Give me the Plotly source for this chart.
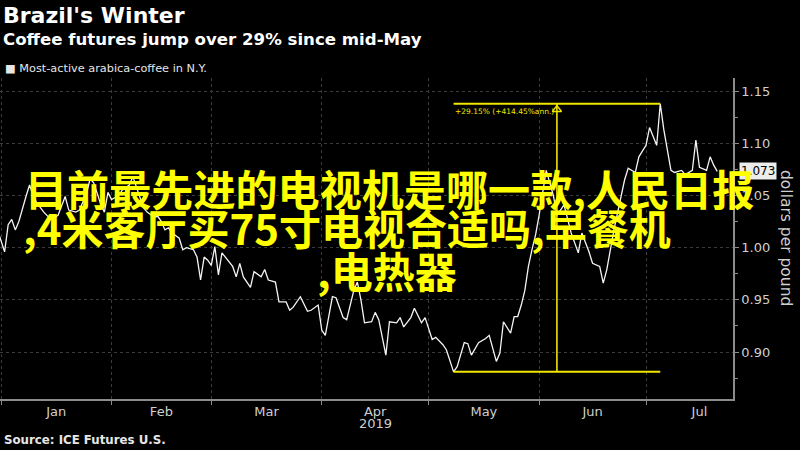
import plotly.graph_objects as go
import pandas as pd

dates = [
    "2018-12-31", "2019-01-02", "2019-01-03", "2019-01-04", "2019-01-05", "2019-01-06", "2019-01-08",
    "2019-01-09", "2019-01-10", "2019-01-11", "2019-01-13", "2019-01-15", "2019-01-17", "2019-01-18",
    "2019-01-19", "2019-01-20", "2019-01-22", "2019-01-23", "2019-01-25", "2019-01-26", "2019-01-27",
    "2019-01-28", "2019-01-29", "2019-01-30", "2019-01-31",
    "2019-02-01", "2019-02-03", "2019-02-04", "2019-02-06", "2019-02-07", "2019-02-08", "2019-02-09",
    "2019-02-10", "2019-02-11", "2019-02-13", "2019-02-14", "2019-02-15", "2019-02-16", "2019-02-17",
    "2019-02-18", "2019-02-20", "2019-02-21", "2019-02-22", "2019-02-24", "2019-02-25", "2019-02-26",
    "2019-02-27", "2019-02-28",
    "2019-03-01", "2019-03-02", "2019-03-03", "2019-03-04", "2019-03-05", "2019-03-07", "2019-03-08",
    "2019-03-09", "2019-03-10", "2019-03-12", "2019-03-13", "2019-03-15", "2019-03-16", "2019-03-17",
    "2019-03-19", "2019-03-20", "2019-03-22", "2019-03-23", "2019-03-24", "2019-03-26", "2019-03-28",
    "2019-03-29", "2019-03-31",
    "2019-04-01", "2019-04-02", "2019-04-04", "2019-04-05", "2019-04-07", "2019-04-08", "2019-04-10",
    "2019-04-11", "2019-04-12", "2019-04-13", "2019-04-15", "2019-04-16", "2019-04-17", "2019-04-19",
    "2019-04-20", "2019-04-22", "2019-04-23", "2019-04-24", "2019-04-26", "2019-04-27", "2019-04-29",
    "2019-04-30",
    "2019-05-02", "2019-05-03", "2019-05-05", "2019-05-06", "2019-05-08", "2019-05-09", "2019-05-11",
    "2019-05-12", "2019-05-13", "2019-05-15", "2019-05-17", "2019-05-18", "2019-05-20", "2019-05-21",
    "2019-05-22", "2019-05-24", "2019-05-25", "2019-05-26", "2019-05-27", "2019-05-28", "2019-05-29",
    "2019-05-30", "2019-05-31",
    "2019-06-01", "2019-06-02", "2019-06-03", "2019-06-05", "2019-06-06", "2019-06-08", "2019-06-10",
    "2019-06-12", "2019-06-13", "2019-06-15", "2019-06-16", "2019-06-18", "2019-06-19", "2019-06-20",
    "2019-06-21", "2019-06-22", "2019-06-25", "2019-06-26", "2019-06-28", "2019-06-29",
    "2019-07-01", "2019-07-02", "2019-07-04", "2019-07-05", "2019-07-06", "2019-07-07", "2019-07-08",
    "2019-07-09", "2019-07-11", "2019-07-12", "2019-07-13", "2019-07-14", "2019-07-15", "2019-07-16",
    "2019-07-18", "2019-07-19", "2019-07-20", "2019-07-21",
]

prices = [
    1.017, 0.996, 1.022, 1.027, 1.017, 1.025, 1.049, 1.060, 1.050, 1.043, 1.034, 1.027, 1.031, 1.041,
    1.049, 1.036, 1.034, 1.036, 1.052, 1.066, 1.062, 1.052, 1.041, 1.034, 1.053,
    1.046, 1.050, 1.055, 1.060, 1.068, 1.058, 1.050, 1.038, 1.034, 1.029, 1.030, 1.025, 1.017, 1.019,
    1.014, 1.009, 0.998, 1.000, 0.998, 0.991, 0.969, 0.991, 0.988,
    0.983, 1.001, 0.974, 0.995, 0.991, 0.982, 0.972, 0.985, 0.972, 0.962, 0.977, 0.972, 0.979, 0.969,
    0.967, 0.948, 0.948, 0.940, 0.943, 0.953, 0.939, 0.940, 0.945,
    0.921, 0.916, 0.953, 0.952, 0.933, 0.931, 0.959, 0.967, 0.950, 0.928, 0.929, 0.938, 0.931, 0.897,
    0.929, 0.928, 0.933, 0.924, 0.933, 0.942, 0.928, 0.933,
    0.912, 0.914, 0.907, 0.902, 0.881, 0.886, 0.909, 0.908, 0.897, 0.909, 0.913, 0.916, 0.891, 0.899,
    0.929, 0.918, 0.934, 0.934, 0.945, 0.959, 0.982, 0.998, 1.012,
    1.031, 1.055, 1.074, 1.050, 1.031, 1.041, 1.014, 0.995, 1.014, 0.996, 0.985, 0.982, 0.966, 0.979,
    0.998, 1.017, 1.065, 1.076, 1.072, 1.087,
    1.098, 1.115, 1.098, 1.1378, 1.113, 1.095, 1.074, 1.072, 1.074, 1.070, 1.072, 1.074, 1.103, 1.077,
    1.074, 1.087, 1.079, 1.073,
]

y_ticks = [0.90, 0.95, 1.00, 1.05, 1.10, 1.15]

title = "Brazil's Winter"
subtitle = "Coffee futures jump over 29% since mid-May"
legend_label = "Most-active arabica-coffee in N.Y."
source = "Source: ICE Futures U.S."
axis_title = "dollars per pound"
change_label = "+29.15% (+414.45%ann.)"
overlay_lines = [
    "目前最先进的电视机是哪一款,人民日报",
    ",4米客厅买75寸电视合适吗,早餐机",
    ",电热器",
]

YELLOW = "#f2e600"
GRID = "#3c3c3c"
AX = "#8c8c8c"
TXT = "#cfcfcf"
FONT = "DejaVu Sans"
CJK = "Noto Sans CJK SC"

# derived from data
i_min = prices.index(min(prices))
i_max = prices.index(max(prices))
d_min = pd.Timestamp(dates[i_min])
d_max = pd.Timestamp(dates[i_max])
d_mid = d_min + (d_max - d_min) / 2
v_min, v_max = prices[i_min], prices[i_max]

fig = go.Figure()
fig.add_trace(go.Scatter(x=dates, y=prices, mode="lines",
                         line=dict(color="#f4f4f4", width=1.3), showlegend=False, hoverinfo="skip"))
# high / low lines
fig.add_trace(go.Scatter(x=[d_min, d_max], y=[v_max, v_max], mode="lines",
                         line=dict(color=YELLOW, width=2), showlegend=False))
fig.add_trace(go.Scatter(x=[d_min, d_max], y=[v_min, v_min], mode="lines",
                         line=dict(color=YELLOW, width=2), showlegend=False))
fig.add_trace(go.Scatter(x=[d_mid, d_mid], y=[v_min, v_max], mode="lines",
                         line=dict(color=YELLOW, width=1.6), showlegend=False))
fig.add_trace(go.Scatter(x=[d_mid], y=[v_max - 0.0055], mode="markers",
                         marker=dict(symbol="triangle-up-open", size=8, color=YELLOW,
                                     line=dict(width=1.4, color=YELLOW)),
                         showlegend=False))

PLOT_TOP, PLOT_BOT, PLOT_R = 78, 399, 733
H = PLOT_BOT - PLOT_TOP


def py(p):
    return (PLOT_BOT - p) / H


def px(p):
    return p / PLOT_R


ann = []
ann.append(dict(text=f"<b>{title}</b>", x=px(1), y=py(16), xanchor="left", yanchor="middle",
                font=dict(family=FONT, size=22, color="#ffffff")))
ann.append(dict(text=f"<b>{subtitle}</b>", x=px(1), y=py(40), xanchor="left", yanchor="middle",
                font=dict(family=FONT, size=16.6, color="#ffffff")))
ann.append(dict(text=f"■ {legend_label}", x=px(3), y=py(68), xanchor="left", yanchor="middle",
                font=dict(family=FONT, size=11.3, color="#e6e6e6")))
ann.append(dict(text=f"<b>{source}</b>", x=px(2), y=py(440), xanchor="left", yanchor="middle",
                font=dict(family=FONT, size=11.8, color="#e6e6e6")))
ann.append(dict(text=axis_title, x=px(786), y=py(238), xanchor="center", yanchor="middle",
                textangle=90, font=dict(family=FONT, size=15.5, color=TXT)))
ann.append(dict(text="2019", x="2019-04-16", xref="x", y=py(424), xanchor="center", yanchor="middle",
                font=dict(family=FONT, size=13, color=TXT)))
for a in ann:
    a.setdefault("xref", "paper")
    a["yref"] = "paper"
    a["showarrow"] = False

# last value box
ann.append(dict(text=f"{prices[-1]:.3f}", xref="paper", x=1, xanchor="left", xshift=6,
                yref="y", y=prices[-1], yanchor="middle", showarrow=False,
                bgcolor="#ececec", borderpad=1, font=dict(family=FONT, size=12, color="#000000")))
# change label
ann.append(dict(text=change_label, xref="x", x=d_min, xanchor="left", xshift=-1,
                yref="y", y=v_max, yanchor="top", yshift=-1, showarrow=False,
                font=dict(family=FONT, size=7.5, color=YELLOW)))
# overlay text
ov_pos = [(23, 187, 42.1), (21, 226, 42), (315, 269, 42)]
for line, (lx, ly, fs) in zip(overlay_lines, ov_pos):
    ann.append(dict(text=f"<b>{line}</b>", xref="paper", x=px(lx), yref="paper", y=py(ly),
                    xanchor="left", yanchor="middle", showarrow=False,
                    font=dict(family=CJK, size=fs, color="#ffff00")))

fig.update_layout(
    width=800, height=450,
    paper_bgcolor="#000000", plot_bgcolor="#000000",
    margin=dict(l=0, r=800 - PLOT_R, t=PLOT_TOP, b=450 - PLOT_BOT),
    showlegend=False,
    annotations=ann,
    xaxis=dict(
        type="date", range=["2018-12-31 17:00", "2019-07-25 10:00"],
        dtick="M1", tick0="2019-01-01", tickformat="%b", ticklabelmode="period",
        ticks="outside", ticklen=4, tickcolor=AX, ticklabelstandoff=-4,
        showline=True, linecolor=AX, linewidth=1.5,
        showgrid=True, gridcolor=GRID, griddash="dot", gridwidth=1,
        tickfont=dict(family=FONT, size=13, color=TXT),
        zeroline=False, fixedrange=True,
    ),
    yaxis=dict(
        side="right", range=[0.855, 1.1625],
        tickmode="array", tickvals=y_ticks, tickformat=".2f",
        ticks="outside", ticklen=4, tickcolor=AX,
        minor=dict(dtick=0.025, tick0=0.9, ticks="outside", ticklen=3, tickcolor=AX, showgrid=False),
        showline=True, linecolor=AX, linewidth=1.5,
        showgrid=True, gridcolor=GRID, griddash="dot", gridwidth=1,
        tickfont=dict(family=FONT, size=13, color=TXT),
        zeroline=False, fixedrange=True,
    ),
)

fig.write_html("out.html", config={"displayModeBar": False},
               post_script="document.body.style.margin='0';document.body.style.overflow='hidden';")
